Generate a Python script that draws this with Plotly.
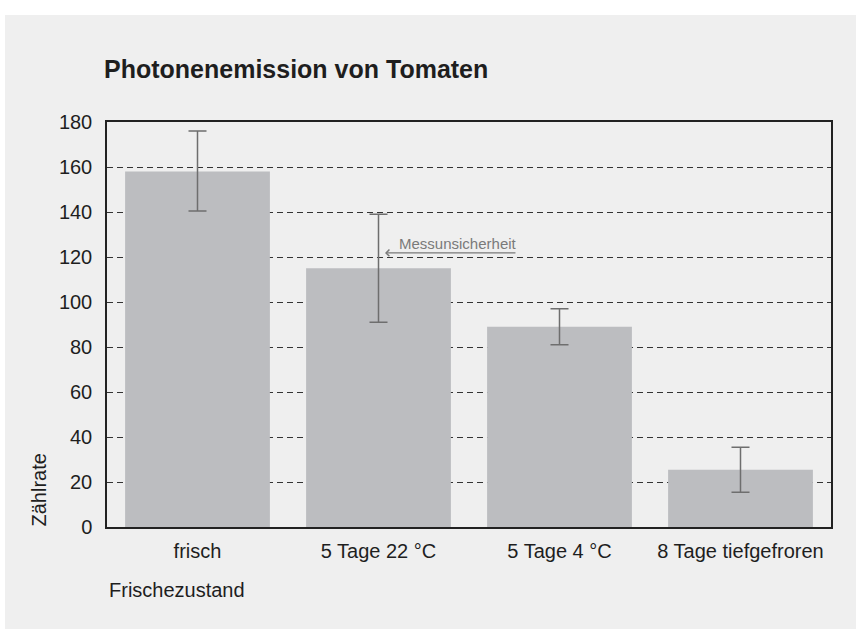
import plotly.graph_objects as go

categories = ["frisch", "5 Tage 22 °C", "5 Tage 4 °C", "8 Tage tiefgefroren"]
values = [158, 115, 89, 25.5]
err_plus = [18, 24, 8, 10]
err_minus = [17.5, 24, 8, 10]
y_ticks = [0, 20, 40, 60, 80, 100, 120, 140, 160, 180]

FONT = "Liberation Sans, Arial, Helvetica, sans-serif"
TXT = "#1e1e1e"
PANEL = "#efefef"

fig = go.Figure()
fig.add_trace(go.Bar(
    x=categories, y=values,
    marker=dict(color="#bcbdc0", line=dict(width=0)),
    error_y=dict(type="data", symmetric=False, array=err_plus, arrayminus=err_minus,
                 color="#6e6e6e", thickness=1.5, width=9),
    width=0.8,
))

# plot area: x 107..831, y 122..527 (px)
W, H = 856, 629
L, R, T, B = 107, 25, 122, 102
pw, ph = W - L - R, H - T - B

def px(xp):
    return (xp - L) / pw

def py(yp):
    return (H - B - yp) / ph

fig.update_layout(
    width=W, height=H,
    margin=dict(l=L, r=R, t=T, b=B, pad=0),
    paper_bgcolor=PANEL, plot_bgcolor=PANEL,
    font=dict(family=FONT, size=20, color=TXT),
    showlegend=False,
    bargap=0.2,
    title=dict(text="<b>Photonenemission von Tomaten</b>",
               font=dict(size=25, color=TXT, family=FONT),
               x=104 / W, xref="container", xanchor="left",
               y=1 - 69 / H, yref="container", yanchor="middle"),
    xaxis=dict(showline=True, linecolor="#222222", linewidth=1.5, mirror=True,
               showgrid=False, ticks="outside", ticklen=5, tickcolor="rgba(0,0,0,0)",
               tickfont=dict(size=20, color=TXT)),
    yaxis=dict(range=[0, 180], tickvals=y_ticks, showline=True, linecolor="#222222",
               linewidth=1.5, mirror=True, showgrid=True, gridcolor="#333333",
               gridwidth=1, griddash="6px,4px", zeroline=False,
               ticks="outside", ticklen=9, tickcolor="rgba(0,0,0,0)",
               tickfont=dict(size=20, color=TXT)),
)

# white outer border strips (top and left)
fig.add_shape(type="rect", xref="paper", yref="paper", x0=px(-10), x1=px(W + 10),
              y0=py(15), y1=py(-10), fillcolor="white", line=dict(width=0), layer="below")
fig.add_shape(type="rect", xref="paper", yref="paper", x0=px(-10), x1=px(5),
              y0=py(H + 10), y1=py(-10), fillcolor="white", line=dict(width=0), layer="below")

fig.add_annotation(text="Frischezustand", xref="paper", yref="paper",
                   x=px(107), y=py(590), xanchor="left", yanchor="middle",
                   showarrow=False, font=dict(size=20, color=TXT))
fig.add_annotation(text="Zählrate", xref="paper", yref="paper", textangle=-90,
                   x=px(38.5), y=py(490), xanchor="center", yanchor="middle",
                   showarrow=False, font=dict(size=20, color=TXT))

# Messunsicherheit arrow
fig.add_annotation(x=1.036, y=121.8, ax=1.765, ay=121.8, xref="x", yref="y",
                   axref="x", ayref="y", text="", showarrow=True,
                   arrowhead=4, arrowsize=1, arrowwidth=1.3, arrowcolor="#7a7a7a")
fig.add_annotation(text="Messunsicherheit", x=1.439, y=126.2, xref="x", yref="y",
                   xanchor="center", yanchor="middle", showarrow=False,
                   font=dict(size=15, color="#7a7a7a"))

fig.write_html("out.html", config={"displayModeBar": False},
               post_script="document.body.style.margin='0';document.body.style.overflow='hidden';")
